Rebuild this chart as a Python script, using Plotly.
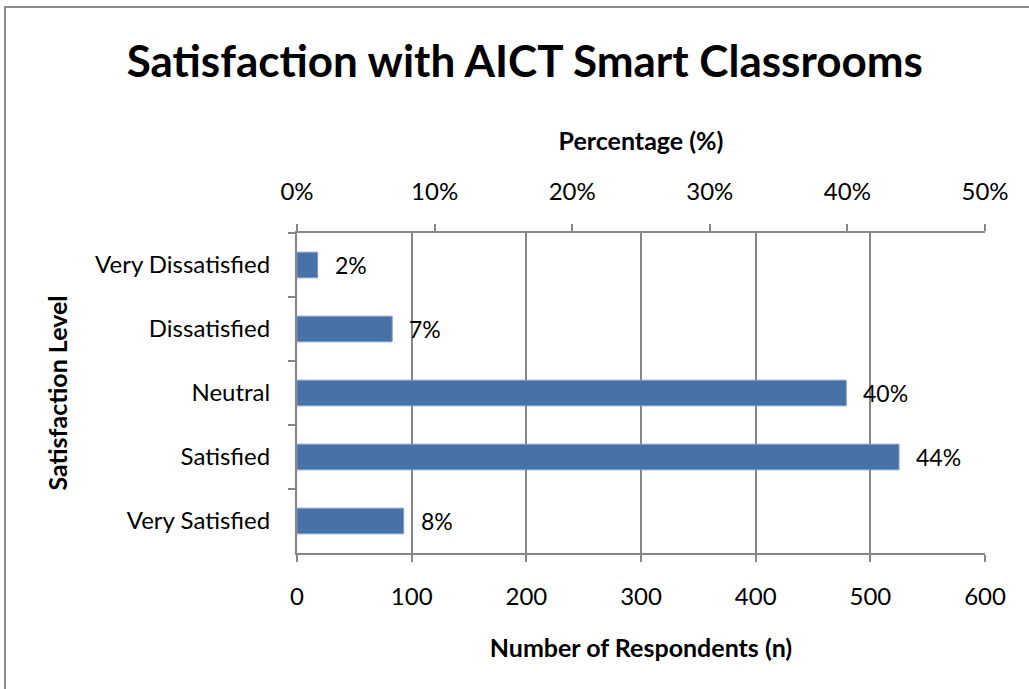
import plotly.graph_objs as go

# ---- data ----
levels = ["Very Dissatisfied", "Dissatisfied", "Neutral", "Satisfied", "Very Satisfied"]
respondents = [18, 83, 479, 525, 93]
pct = [2, 7, 40, 44, 8]
count_ticks = [0, 100, 200, 300, 400, 500, 600]
pct_ticks = [0, 10, 20, 30, 40, 50]

FONT = "Lato"
GRID = "#868686"
BAR = "#4672A8"
TICK_SIZE = 24
AXIS_TITLE_SIZE = 25

fig = go.Figure()

fig.add_trace(go.Bar(
    x=respondents,
    y=levels,
    orientation="h",
    width=0.4,
    marker=dict(color=BAR, line=dict(color="#7F9CC4", width=1)),
    hoverinfo="x+y",
    showlegend=False,
))

# invisible trace so the top (percentage) axis gets drawn
fig.add_trace(go.Scatter(
    x=pct,
    y=levels,
    xaxis="x2",
    mode="markers",
    marker=dict(opacity=0),
    hoverinfo="skip",
    showlegend=False,
))

# percentage labels to the right of each bar
annotations = []
for lvl, n, p in zip(levels, respondents, pct):
    annotations.append(dict(
        x=n, y=lvl, xref="x", yref="y",
        text=f"{p}%", showarrow=False,
        xanchor="left", xshift=15,
        font=dict(family=FONT, size=23, color="black"),
    ))

# outer chart border (only top/left visible in the frame)
shapes = [dict(
    type="rect", xref="paper", yref="paper",
    x0=-0.4244, x1=1.2, y0=-0.6, y1=1.706,
    line=dict(color="#8C8C8C", width=2), fillcolor="rgba(0,0,0,0)",
    layer="below",
)]

fig.update_layout(
    width=1029,
    height=689,
    paper_bgcolor="white",
    plot_bgcolor="white",
    margin=dict(l=297, r=44, t=233, b=136),
    bargap=0.6,
    title=dict(
        text="<b>Satisfaction with AICT Smart Classrooms</b>",
        font=dict(family=FONT, size=44, color="black"),
        x=0.51, xanchor="center", y=0.91, yanchor="middle",
    ),
    xaxis=dict(
        range=[0, 600],
        tickvals=count_ticks,
        showgrid=True, gridcolor=GRID, gridwidth=2,
        showline=True, linecolor=GRID, linewidth=2, mirror=False,
        ticks="outside", ticklen=7, tickcolor=GRID, tickwidth=2,
        ticklabelstandoff=14,
        tickfont=dict(family=FONT, size=TICK_SIZE, color="black"),
        zeroline=False,
        title=dict(text="<b>Number of Respondents (n)</b>",
                   font=dict(family=FONT, size=AXIS_TITLE_SIZE, color="black"), standoff=31),
    ),
    xaxis2=dict(
        range=[0, 50],
        tickvals=pct_ticks,
        ticktext=[f"{v}%" for v in pct_ticks],
        overlaying="x", side="top",
        showgrid=False,
        showline=True, linecolor=GRID, linewidth=2,
        ticks="outside", ticklen=7, tickcolor=GRID, tickwidth=2,
        ticklabelstandoff=14,
        tickfont=dict(family=FONT, size=TICK_SIZE, color="black"),
        zeroline=False,
        title=dict(text="<b>Percentage (%)</b>",
                   font=dict(family=FONT, size=AXIS_TITLE_SIZE, color="black"), standoff=19),
    ),
    yaxis=dict(
        categoryorder="array", categoryarray=levels,
        autorange="reversed",
        showgrid=False,
        showline=True, linecolor=GRID, linewidth=2,
        ticks="outside", ticklen=7, tickcolor=GRID, tickwidth=2,
        tickson="boundaries",
        ticklabelstandoff=20,
        tickfont=dict(family=FONT, size=TICK_SIZE, color="black"),
        title=dict(text="<b>Satisfaction Level</b>",
                   font=dict(family=FONT, size=AXIS_TITLE_SIZE, color="black"), standoff=20),
    ),
    annotations=annotations,
    shapes=shapes,
)

# drop the default page margin so the figure sits at the window's corner
fig.write_html("out.html", config={"displayModeBar": False},
               post_script="document.body.style.margin='0';")
